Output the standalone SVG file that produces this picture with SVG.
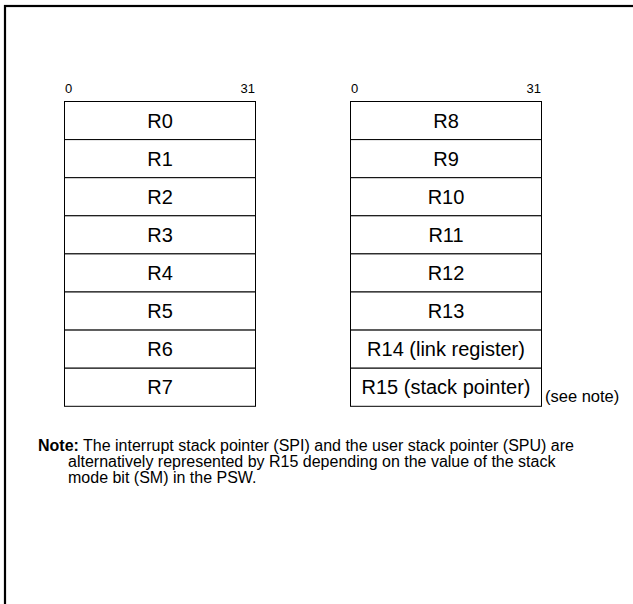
<svg xmlns="http://www.w3.org/2000/svg" width="633" height="604" viewBox="0 0 633 604">
<style>
.frame{fill:none;stroke:#000;stroke-width:2.2}
.cell{fill:#fff;stroke:#000;stroke-width:1}
.reg{font-family:"Liberation Sans",Arial,sans-serif;font-size:20px;fill:#000;text-anchor:middle}
.bit{font-family:"Liberation Sans",Arial,sans-serif;font-size:13px;fill:#000}
.note{font-family:"Liberation Sans",Arial,sans-serif;font-size:16px;fill:#000}
</style>
<rect class="frame" x="5" y="6" width="640" height="610"/>
<g id="left-bits">
<text class="bit" x="65" y="93">0</text>
<text class="bit" x="255" y="93" text-anchor="end">31</text>
</g>
<g id="right-bits">
<text class="bit" x="351" y="93">0</text>
<text class="bit" x="541" y="93" text-anchor="end">31</text>
</g>
<g id="R0"><rect class="cell" x="64.5" y="101.5" width="191" height="38.1"/><text class="reg" x="160" y="127.5">R0</text></g>
<g id="R1"><rect class="cell" x="64.5" y="139.6" width="191" height="38.1"/><text class="reg" x="160" y="165.5">R1</text></g>
<g id="R2"><rect class="cell" x="64.5" y="177.7" width="191" height="38.1"/><text class="reg" x="160" y="203.5">R2</text></g>
<g id="R3"><rect class="cell" x="64.5" y="215.8" width="191" height="38.1"/><text class="reg" x="160" y="241.5">R3</text></g>
<g id="R4"><rect class="cell" x="64.5" y="253.9" width="191" height="38.1"/><text class="reg" x="160" y="280">R4</text></g>
<g id="R5"><rect class="cell" x="64.5" y="292" width="191" height="38.1"/><text class="reg" x="160" y="318">R5</text></g>
<g id="R6"><rect class="cell" x="64.5" y="330.1" width="191" height="38.1"/><text class="reg" x="160" y="356">R6</text></g>
<g id="R7"><rect class="cell" x="64.5" y="368.2" width="191" height="38.1"/><text class="reg" x="160" y="394">R7</text></g>
<g id="R8"><rect class="cell" x="350.5" y="101.5" width="191" height="38.1"/><text class="reg" x="446" y="127.5">R8</text></g>
<g id="R9"><rect class="cell" x="350.5" y="139.6" width="191" height="38.1"/><text class="reg" x="446" y="165.5">R9</text></g>
<g id="R10"><rect class="cell" x="350.5" y="177.7" width="191" height="38.1"/><text class="reg" x="446" y="203.5">R10</text></g>
<g id="R11"><rect class="cell" x="350.5" y="215.8" width="191" height="38.1"/><text class="reg" x="446" y="241.5">R11</text></g>
<g id="R12"><rect class="cell" x="350.5" y="253.9" width="191" height="38.1"/><text class="reg" x="446" y="280">R12</text></g>
<g id="R13"><rect class="cell" x="350.5" y="292" width="191" height="38.1"/><text class="reg" x="446" y="318">R13</text></g>
<g id="R14"><rect class="cell" x="350.5" y="330.1" width="191" height="38.1"/><text class="reg" x="446" y="356">R14 (link register)</text></g>
<g id="R15"><rect class="cell" x="350.5" y="368.2" width="191" height="38.1"/><text class="reg" x="446" y="394">R15 (stack pointer)</text></g>
<g id="see-note"><text class="note" x="545" y="402" style="font-size:16.5px">(see note)</text></g>
<g id="note">
<text class="note" x="38" y="451"><tspan font-weight="bold">Note:</tspan> The interrupt stack pointer (SPI) and the user stack pointer (SPU) are</text>
<text class="note" x="68" y="467">alternatively represented by R15 depending on the value of the stack</text>
<text class="note" x="68" y="483">mode bit (SM) in the PSW.</text>
</g>
<g id="connectors"></g>
</svg>
